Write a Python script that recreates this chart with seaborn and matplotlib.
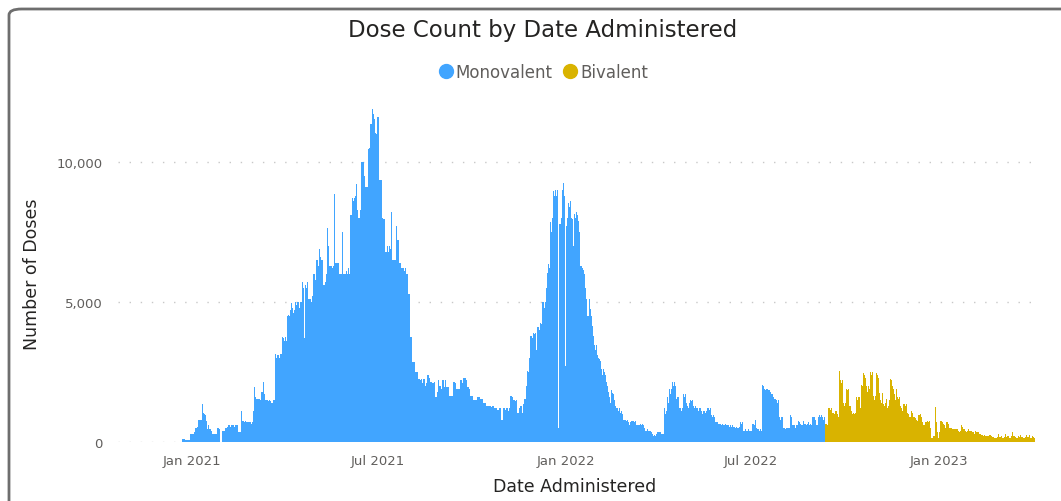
import numpy as np
import pandas as pd
import matplotlib
matplotlib.use("Agg")
import matplotlib.pyplot as plt
import matplotlib.dates as mdates
from matplotlib.patches import FancyBboxPatch
from matplotlib.lines import Line2D
import seaborn as sns

# ---------------- data (daily doses, in hundreds; one row per week Mon..Sun) -------------
mono_start = "2020-12-21"
biv_start = "2022-09-12"

mono_wave1 = [
    [0, 1, 1, 1, 0.7, 0.7, 0.7],
    [0.7, 0.7, 3, 3, 3, 3, 3.5],
    [5, 5, 5.5, 8, 8, 8, 8],
    [13.5, 10.5, 10, 9.5, 7.5, 4.5, 6],
    [4.5, 4.5, 4, 3, 3, 3, 3],
    [3, 5, 5, 4.5, 0, 0, 4],
    [4, 4, 5, 5.5, 6, 6, 5.5],
    [6, 6, 6, 5.5, 6, 6, 6],
    [3.5, 3.5, 3.5, 11, 7.5, 7.5, 7],
    [7.5, 7, 7, 7, 7, 7, 6.5],
    [7, 11, 19.5, 16, 15.5, 15.5, 15.5],
    [15.5, 15, 18, 18, 21.5, 17, 15],
    [15, 15, 14.5, 15, 14.5, 14, 15],
    [15, 31.5, 30, 31, 31, 30, 31.5],
    [31.5, 37.5, 37, 36, 37.5, 36, 45],
    [45.5, 45, 47, 49.5, 48, 46, 47],
    [50, 49, 50, 50, 48, 50, 50],
    [57, 55, 37, 56, 55, 57, 51],
    [51, 51, 50, 52, 60, 60, 58],
    [65, 63, 69, 66, 65, 65, 56],
    [56, 57, 60, 76.5, 70, 63, 63],
    [63, 62, 63, 88.5, 64, 64, 64],
    [64, 60, 60, 60, 75, 60, 60],
    [60, 61, 60, 62, 60, 81, 81],
    [87, 86, 87, 88, 92, 83, 80],
    [80, 83, 100, 100, 95, 91, 91],
    [91, 104.5, 105, 113.5, 113.5, 119, 117],
    [115.5, 110.5, 110, 116, 116, 93.5, 93.5],
    [93.5, 80, 79.5, 79.5, 68, 68, 70],
    [68, 70, 69, 82, 65, 65, 65],
    [65, 77, 72, 72, 64, 64, 62],
    [62, 62, 61, 62, 60, 53, 53],
    [37.5, 37.5, 28.5, 28.5, 28.5, 25, 25],
    [25, 22.5, 22.5, 22, 22.5, 21, 22.5],
    [22.5, 20, 21, 24, 24, 23, 21.5],
    [21.5, 21, 21, 21.5, 16, 16, 18],
]

mono_wave2 = [
    [22, 20, 20, 19, 22, 22, 19.5],
    [22, 19.5, 19.5, 19.5, 16.5, 16.5, 16.5],
    [21.5, 21.5, 21, 19, 19, 19, 19],
    [22, 22, 21, 23, 23, 23, 22],
    [19.5, 19.5, 19, 16.5, 16.5, 16.5, 15],
    [15, 15, 15, 16, 16, 16, 15.5],
    [15.5, 15.5, 14, 14, 14, 13, 13],
    [13, 13, 13, 12.5, 13, 13, 12],
    [12, 12, 11.5, 12, 12, 8, 8],
    [12, 12, 11.5, 12, 12, 11, 12],
    [16.5, 16.5, 16, 15, 15, 14.5, 15],
    [10.5, 10.5, 12, 13, 13, 10.5, 13.5],
    [15.5, 15.5, 20, 25.5, 25, 30, 38],
    [38, 37, 39, 38.5, 39, 33, 41],
    [41, 40, 42.5, 42, 50, 48, 50],
    [55, 60.5, 63.5, 62, 78.5, 75, 80],
    [89.5, 88, 90, 88, 90, 5, 78],
    [78, 80, 90, 92.5, 88, 27, 77],
    [80, 85.5, 84, 86, 80, 79.5, 70],
    [81.5, 80, 82, 81, 79, 75, 63],
    [63, 62, 61.5, 60, 55, 51, 45],
    [51, 47.5, 45, 41.5, 38, 34.5, 33],
    [34.5, 31, 30, 29.5, 29, 26, 24],
    [26, 25, 24, 21.5, 20, 18, 16],
    [14, 18.5, 17.5, 17, 15, 13, 12],
    [12, 11, 12, 10.5, 11, 10, 8],
    [8, 8, 7.5, 8, 7, 6, 7],
    [7.5, 7.5, 7, 7.5, 6, 6, 6],
    [6, 6.5, 6, 6.5, 6, 5, 4],
    [4, 4.5, 4, 4, 4, 3.5, 3],
    [2.3, 2.5, 2.3, 3, 3.7, 3.5, 3.7],
]

mono_wave3 = [
    [3.7, 3, 3, 3, 12, 10, 11],
    [16, 14, 19, 17, 19, 21.5, 20],
    [21.5, 20, 15.5, 16, 12, 12, 11],
    [12, 17, 16, 17, 14, 13, 12],
    [14, 15, 14.5, 15, 13, 12, 13],
    [12, 12, 11, 12, 12, 11, 10],
    [11, 11, 10.5, 11, 12, 12, 11.5],
    [12, 9.5, 9, 9.5, 9, 7, 7],
    [7, 6.5, 6.5, 6.5, 6, 6.5, 6],
    [6.5, 6, 6, 6, 5.5, 6, 5.5],
    [6, 5.5, 5.5, 5, 5.5, 5, 5],
    [5.5, 7, 6.5, 7, 4, 4, 4.5],
    [4, 4, 4.5, 4, 4, 4, 6.5],
    [6.5, 6, 8, 5, 4.5, 4.5, 4],
    [4.5, 4, 20.5, 20, 19, 18.5, 19],
    [19, 18.5, 18, 17, 17, 16, 15.5],
    [15.5, 15, 14, 15, 9, 8, 9],
    [9, 5, 5, 4.5, 5, 5, 5],
    [5, 9.5, 9, 6, 6, 6, 5],
    [6, 6, 7.5, 7, 6.5, 6, 6],
    [7.5, 6.5, 6.5, 6, 6.5, 7, 6],
    [6.5, 6, 9, 9, 8, 6, 6],
    [9, 9.5, 9, 9.5, 9, 8, 9],
    [2, 1.5, 1.5, 1.5, 1.5, 1, 1],
    [1.5, 1.5, 1.2, 1.5, 1.2, 1, 1],
    [1.5, 1.5, 1.2, 1.5, 1.2, 1, 1],
    [1.5, 1.2, 1.5, 1.2, 1.2, 1, 1],
    [1.2, 1.5, 1.2, 1.2, 1, 1, 1],
    [1.2, 1.2, 1, 1.2, 1, 0.8, 0.8],
    [1.2, 1, 1, 1, 1, 0.8, 0.8],
    [1, 1, 1, 1, 1, 0.8, 0.8],
    [1, 1, 1, 1, 0.8, 0.8, 0.8],
    [1, 1, 0.8, 0.8, 0.8, 0.7, 0.7],
    [0.8, 0.8, 0.8, 0.8, 0.8, 0.7, 0.7],
    [0.8, 0.8, 0.8, 0.8, 0.8, 0.6, 0.6],
    [0.8, 0.8, 0.8, 0.8, 0.8, 0.6, 0.3],
    [0.3, 0.5, 0.5, 0.8, 0.6, 0.5, 0.3],
    [0.6, 0.8, 0.8, 0.7, 0.7, 0.6, 0.6],
    [0.7, 0.7, 0.7, 0.6, 0.6, 0.5, 0.5],
    [0.6, 0.6, 0.6, 0.6, 0.5, 0.5, 0.5],
    [0.6, 0.6, 0.5, 0.5, 0.5, 0.4, 0.4],
    [0.5, 0.5, 0.5, 0.5, 0.4, 0.4, 0.4],
    [0.5, 0.5, 0.4, 0.4, 0.4, 0.4, 0.4],
    [0.4, 0.4, 0.4, 0.4, 0.4, 0.3, 0.3],
    [0.4, 0.4, 0.4, 0.4, 0.3, 0.3, 0.3],
    [0.4, 0.4, 0.3, 0.3, 0.3, 0.3, 0.3],
    [0.4, 0.3, 0.3, 0.3, 0.3, 0.3, 0.3],
    [0.3, 0.3, 0.3, 0.3, 0.3, 0.3, 0.3],
    [0.3, 0.3, 0.3, 0.3, 0.3, 0.3, 0.3],
    [0.3, 0.3, 0.3, 0.3, 0.3, 0.3, 0.3],
    [0.3, 0.3, 0.3, 0.3, 0.3, 0.3, 0.3],
    [0.3, 0.3, 0.3, 0, 0, 0, 0],
]

biv_weeks = [
    [6.5, 6.5, 6, 12, 12, 11.5, 12],
    [10.5, 10.5, 10, 11, 11, 10, 9],
    [25.5, 22, 21, 22, 14, 13, 14],
    [19, 18.5, 19, 13, 13, 11, 10],
    [10.5, 10, 10.5, 16, 15, 16, 12],
    [20.5, 20, 24.5, 24, 23, 20, 18],
    [20, 19, 25, 24, 25, 16.5, 15],
    [16.5, 24.5, 24, 23, 17.5, 15, 14],
    [17.5, 13.5, 13, 14, 15.5, 12, 13],
    [15, 22.5, 22, 20, 19, 17, 15],
    [19, 16, 15.5, 16, 13, 12, 11],
    [13.5, 13, 13.5, 10.5, 10, 9, 9],
    [11, 10.5, 9, 9, 8.5, 8, 7.5],
    [9.5, 9.5, 10, 9, 7, 6, 6],
    [7, 7, 7.5, 7, 7.5, 5, 1.5],
    [1.5, 2, 2, 12.5, 7, 3.5, 1.5],
    [3.5, 7.5, 7.5, 7, 6.5, 6, 5],
    [7, 7, 6.5, 5, 5, 4.5, 4.5],
    [4.5, 4.5, 4.5, 4.5, 4, 3.5, 4],
    [6, 5.5, 4.5, 4.5, 4, 3.5, 4],
    [4.5, 4, 4, 4, 3.5, 3.5, 3],
    [4, 3.5, 3.5, 3.5, 3, 3, 2.5],
    [2.5, 2.3, 2.5, 2.3, 2, 2, 2],
    [2.5, 2.5, 2, 1.7, 1.7, 1.5, 1.5],
    [1.7, 2.8, 1.7, 1.7, 2, 1.5, 1.5],
    [1.7, 2.8, 1.7, 2, 2, 1.5, 1.5],
    [2, 3.5, 2, 2, 1.8, 1.5, 1.5],
    [2, 1.8, 2.5, 1.8, 1.7, 1.5, 1.5],
    [1.7, 2.5, 1.7, 1.7, 2.5, 1.5, 1.5],
    [2, 1.7, 1.5, 0, 0, 0, 0],
]

series_names = ["Monovalent", "Bivalent"]
colors = ["#41A5FF", "#D9B300"]
y_ticks = [0, 5000, 10000]

# ---------------- build tables ----------------
mono_vals = np.array([v for wk in (mono_wave1 + mono_wave2 + mono_wave3) for v in wk]) * 100
biv_vals = np.array([v for wk in biv_weeks for v in wk]) * 100
mono_df = pd.DataFrame({"date": pd.date_range(mono_start, periods=len(mono_vals), freq="D"),
                        "doses": mono_vals})
biv_df = pd.DataFrame({"date": pd.date_range(biv_start, periods=len(biv_vals), freq="D"),
                       "doses": biv_vals})

# ---------------- figure ----------------
sns.set_theme(style="white")
plt.rcParams["font.family"] = ["DejaVu Sans"]
W, H = 1061, 502
fig = plt.figure(figsize=(W / 100, H / 100), dpi=100)
fig.patch.set_facecolor("white")

ax_l, ax_r, ax_t, ax_b = 118, 1040, 100, 443
ax = fig.add_axes([ax_l / W, (H - ax_b) / H, (ax_r - ax_l) / W, (ax_b - ax_t) / H])

for df, col in zip([mono_df, biv_df], colors):
    sns.histplot(data=df, x="date", weights="doses", discrete=True, shrink=1.0,
                 color=col, alpha=1, linewidth=0, edgecolor=col, ax=ax)

ref = mdates.date2num(pd.Timestamp("2021-01-01"))
ax.set_xlim(ref - 72.6, ref + 829.0)
ax.set_ylim(0, 12250)

ax.xaxis.set_major_locator(mdates.MonthLocator(bymonth=[1, 7]))
ax.xaxis.set_major_formatter(mdates.DateFormatter("%b %Y"))
ax.set_yticks(y_ticks)
ax.yaxis.set_major_formatter(matplotlib.ticker.FuncFormatter(lambda v, p: f"{v:,.0f}"))

tick_col = "#605E5C"
ax.tick_params(axis="both", length=0, colors=tick_col, labelsize=9.5)
ax.tick_params(axis="y", pad=11)
ax.tick_params(axis="x", pad=9)
for s in ax.spines.values():
    s.set_visible(False)
ax.set_axisbelow(True)
ax.yaxis.grid(True, color="#C8C8C8", linewidth=1.0, linestyle=(0, (1, 7)))
ax.xaxis.grid(False)

ax.set_xlabel("Date Administered", fontsize=12.5, color="#252423")
ax.set_ylabel("Number of Doses", fontsize=12.5, color="#252423")
ax.xaxis.set_label_coords((575 - ax_l) / (ax_r - ax_l), -(487 - ax_b) / (ax_b - ax_t))
ax.yaxis.set_label_coords(-(118 - 32) / (ax_r - ax_l), (ax_b - 274) / (ax_b - ax_t))
ax.xaxis.label.set_va("center")
ax.yaxis.label.set_va("center")

fig.text(543 / W, (H - 31) / H, "Dose Count by Date Administered", ha="center", va="center",
         fontsize=16.5, color="#252423")

handles = [Line2D([0], [0], marker="o", linestyle="none", markersize=10,
                  markerfacecolor=c, markeredgecolor=c) for c in colors]
fig.legend(handles, series_names, loc="center", bbox_to_anchor=(543 / W, (H - 73) / H),
           ncol=2, frameon=False, fontsize=12, handlelength=0.9, handletextpad=0.15,
           columnspacing=0.6, labelcolor=tick_col, borderaxespad=0)

frame = FancyBboxPatch((9 / W, -0.2), 1.2, (H - 10) / H + 0.2,
                       boxstyle="round,pad=0,rounding_size=0.012",
                       transform=fig.transFigure, facecolor="none",
                       edgecolor="#6E6E6E", linewidth=2, zorder=10)
fig.patches.append(frame)

fig.savefig("out.png", dpi=100)
